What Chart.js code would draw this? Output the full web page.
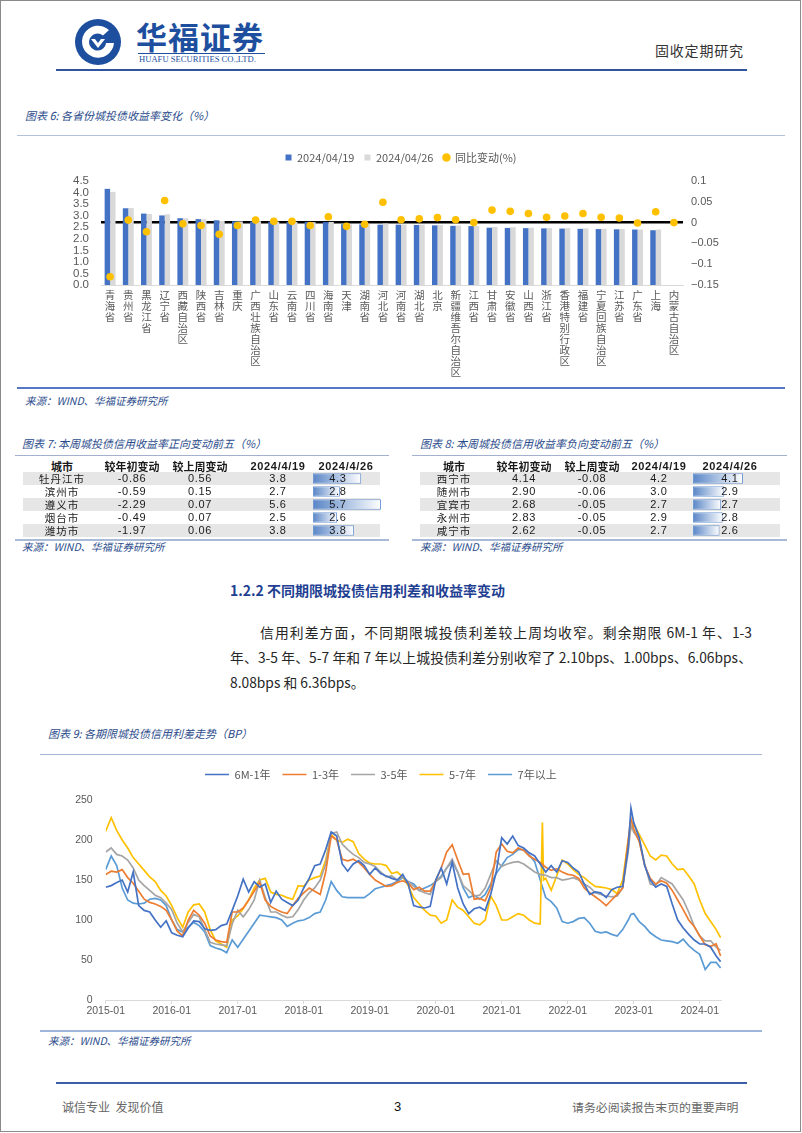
<!DOCTYPE html>
<html lang="zh-CN">
<head>
<meta charset="utf-8">
<title>固收定期研究</title>
<script src="https://cdn.jsdelivr.net/npm/chart.js@4.4.1/dist/chart.umd.min.js"></script>
<style>
  html, body { margin:0; padding:0; background:#fff; }
  body { width:802px; height:1133px; position:relative; overflow:hidden;
         font-family:"Noto Sans CJK SC","Liberation Sans",sans-serif; color:#222; }
  .a { position:absolute; white-space:nowrap; line-height:1; }
  .ln { position:absolute; }
  canvas { position:absolute; }
  .cap { font-size:11px; font-style:italic; color:#2B4C8C; }
  .src { font-size:10.5px; font-style:italic; color:#2B4C8C; }
  .shade { position:absolute; height:13px; background:#E6E6E6; }
  .cell { position:absolute; height:13px; line-height:13px; width:110px; margin-left:-55px;
          text-align:center; font-size:10.5px; z-index:3; white-space:nowrap; color:#1a1a1a; }
  .num { font-family:"Liberation Sans",sans-serif; font-size:11px; letter-spacing:0.7px; }
  .hd { font-weight:700; font-size:11px; }
  .para { position:absolute; font-size:13.8px; line-height:1; color:#262626; white-space:nowrap; }
  .just { text-align:justify; text-align-last:justify; white-space:normal; }
</style>
</head>
<body>
<div class="ln" style="left:0;top:0;width:799px;height:1130px;border:1px solid #8a8a8a;"></div>

<!-- header -->
<svg class="a" style="left:74px;top:18px" width="48" height="48" viewBox="0 0 48 48">
  <circle cx="24" cy="24" r="23" fill="#1E4F9E"/>
  <path d="M35 12 A16 16 0 1 0 40 25 L32 25 A8.5 8.5 0 1 1 29 17.5 Z" fill="#fff"/>
  <path d="M17 21 L24 30 L31 21 L27 21 L24 25 L21 21 Z" fill="#fff"/>
</svg>
<div class="a" style="left:136px;top:20px;font-size:31px;font-weight:700;color:#1E4F9E;letter-spacing:1px;">华福证券</div>
<div class="ln" style="left:138px;top:53px;width:127px;height:0;border-top:1px solid #1E4F9E;"></div>
<div class="a" style="left:139px;top:55px;font-family:'Liberation Serif',serif;font-size:8.6px;color:#1E4F9E;">HUAFU SECURITIES CO.,LTD.</div>
<div class="a" style="left:655px;top:43px;font-size:14px;color:#333;letter-spacing:0.8px;">固收定期研究</div>
<div class="ln" style="left:56px;top:69px;width:691px;height:2px;background:#2F55A0;"></div>

<!-- chart 6 -->
<div class="a cap" style="left:25px;top:110px;">图表 6: 各省份城投债收益率变化（%）</div>
<div class="ln" style="left:17px;top:135px;width:768px;height:1px;background:#B4C1DC;"></div>
<canvas id="c6" width="802" height="248" style="left:0;top:142px;"></canvas>
<div class="ln" style="left:17px;top:387px;width:768px;height:2px;background:#5677C5;"></div>
<div class="a src" style="left:25px;top:396px;">来源：WIND、华福证券研究所</div>

<!-- tables -->
<div class="a cap" style="left:22px;top:438px;">图表 7: 本周城投债信用收益率正向变动前五（%）</div>
<div class="a cap" style="left:420px;top:438px;">图表 8: 本周城投债信用收益率负向变动前五（%）</div>
<div class="ln" style="left:15px;top:455px;width:374px;height:1px;background:#A3B1CE;"></div>
<div class="ln" style="left:412px;top:455px;width:375px;height:1px;background:#A3B1CE;"></div>
<div class="ln" style="left:15px;top:539px;width:374px;height:2px;background:#A9B9D8;"></div>
<div class="ln" style="left:412px;top:539px;width:375px;height:2px;background:#A9B9D8;"></div>
<div id="tables"></div>
<canvas id="t7bars" width="70" height="65" style="left:312px;top:472px;z-index:2;"></canvas>
<canvas id="t8bars" width="52" height="65" style="left:692px;top:472px;z-index:2;"></canvas>
<div class="a src" style="left:22px;top:542px;">来源：WIND、华福证券研究所</div>
<div class="a src" style="left:420px;top:542px;">来源：WIND、华福证券研究所</div>

<!-- section text -->
<div class="a" style="left:230px;top:583px;font-size:14px;font-weight:700;color:#1F3F93;">1.2.2 不同期限城投债信用利差和收益率变动</div>
<div class="para just" style="left:260px;top:626px;width:492px;">信用利差方面，不同期限城投债利差较上周均收窄。剩余期限 6M-1 年、1-3</div>
<div class="para just" style="left:230px;top:651px;width:522px;">年、3-5 年、5-7 年和 7 年以上城投债利差分别收窄了 2.10bps、1.00bps、6.06bps、</div>
<div class="para" style="left:230px;top:676px;">8.08bps 和 6.36bps。</div>

<!-- chart 9 -->
<div class="a cap" style="left:48px;top:728px;">图表 9: 各期限城投债信用利差走势（BP）</div>
<div class="ln" style="left:40px;top:754px;width:722px;height:1px;background:#A6B5D3;"></div>
<canvas id="c9" width="722" height="268" style="left:40px;top:757px;"></canvas>
<div class="ln" style="left:40px;top:1030px;width:722px;height:2px;background:#9EB6DC;"></div>
<div class="a src" style="left:48px;top:1036px;">来源：WIND、华福证券研究所</div>

<!-- footer -->
<div class="ln" style="left:56px;top:1082px;width:691px;height:2px;background:#3B5EA7;"></div>
<div class="a" style="left:62px;top:1101px;font-size:12px;color:#666;">诚信专业&nbsp;&nbsp;发现价值</div>
<div class="a" style="left:394px;top:1100px;font-size:13px;font-family:'Liberation Sans',sans-serif;color:#111;">3</div>
<div class="a" style="left:572px;top:1101px;font-size:11.9px;color:#666;">请务必阅读报告末页的重要声明</div>

<script>
// ---------------- data: chart 6 ----------------
const provinces = ['青海省','贵州省','黑龙江省','辽宁省','西藏自治区','陕西省','吉林省','重庆','广西壮族自治区','山东省','云南省','四川省','海南省','天津','湖南省','河北省','河南省','湖北省','北京','新疆维吾尔自治区','江西省','甘肃省','安徽省','山西省','浙江省','香港特别行政区','福建省','宁夏回族自治区','江苏省','广东省','上海','内蒙古自治区'];
const yield0419 = [4.16,3.32,3.09,3.01,2.89,2.85,2.80,2.76,2.75,2.74,2.73,2.73,2.72,2.63,2.62,2.61,2.61,2.60,2.58,2.56,2.55,2.48,2.47,2.46,2.45,2.44,2.43,2.42,2.41,2.40,2.37,null];
const yield0426 = [4.03,3.33,3.07,3.06,2.89,2.84,2.77,2.75,2.76,2.74,2.73,2.72,2.73,2.62,2.62,2.66,2.62,2.61,2.59,2.57,2.55,2.51,2.50,2.48,2.46,2.46,2.45,2.43,2.42,2.40,2.40,null];
const yieldChange = [-0.13,0.006,-0.022,0.053,-0.003,-0.007,-0.028,-0.007,0.006,0.003,0.003,-0.007,0.014,-0.009,-0.004,0.049,0.007,0.009,0.012,0.007,0.0,0.030,0.027,0.022,0.013,0.016,0.022,0.013,0.011,-0.001,0.026,0.0];

// ---------------- data: tables 7 & 8 ----------------
const tableHeader = ['城市','较年初变动','较上周变动','2024/4/19','2024/4/26'];
const t7City = ['牡丹江市','滨州市','遵义市','烟台市','潍坊市'];
const t7Ytd  = [-0.86,-0.59,-2.29,-0.49,-1.97];
const t7Wow  = [0.56,0.15,0.07,0.07,0.06];
const t7Prev = [3.8,2.7,5.6,2.5,3.8];
const t7Curr = [4.3,2.8,5.7,2.6,3.8];
const t8City = ['西宁市','随州市','宜宾市','永州市','咸宁市'];
const t8Ytd  = [4.14,2.90,2.68,2.83,2.62];
const t8Wow  = [-0.08,-0.06,-0.05,-0.05,-0.05];
const t8Prev = [4.2,3.0,2.7,2.9,2.7];
const t8Curr = [4.1,2.9,2.7,2.8,2.6];

// ---------------- data: chart 9 (months since 2015-01) ----------------
const spreadMonth = [0,1,2,3,4,5,6,7,8,9,10,11,
 12,13,14,15,16,17,18,19,20,21,22,23,
 24,25,26,27,28,29,30,31,32,33,34,35,
 36,37,38,39,40,41,42,43,44,45,46,47,
 48,49,50,51,52,53,54,55,56,57,58,59,
 60,61,62,63,64,65,66,67,68,69,70,71,
 72,73,74,75,76,77,78,79,79.4,79.6,80,81,82,83,
 84,85,86,87,88,89,90,91,92,93,94,95,95.5,
 96,97,98,99,100,101,102,103,104,105,106,107,
 108,109,110,111,111.8];
const spreadYearLabels = ['2015-01','2016-01','2017-01','2018-01','2019-01','2020-01','2021-01','2022-01','2023-01','2024-01'];
const spread6M1Y = [141,143,147,150,135,160,118,112,110,100,91,99,
 84,81,79,90,99,98,89,87,88,93,95,112,
 130,151,135,148,141,145,122,136,126,122,118,125,
 140,152,168,170,188,210,205,170,161,170,174,168,
 157,165,158,155,152,150,157,145,118,116,115,117,
 150,165,145,172,140,120,108,114,116,112,132,160,
 203,195,205,193,190,184,180,170,null,null,160,168,160,174,
 172,165,160,145,132,135,134,128,138,141,142,190,240,
 222,203,168,150,141,145,142,120,100,90,82,75,
 70,70,66,55,48];
const spread1to3 = [157,161,160,163,153,146,136,126,122,120,117,112,
 100,86,80,100,112,106,96,80,75,73,72,110,
 110,115,125,136,147,125,117,113,110,108,118,127,
 134,140,136,132,160,205,200,176,174,176,172,165,
 157,150,146,142,143,147,149,146,138,141,136,136,
 149,165,185,194,175,157,158,126,127,124,140,185,
 195,186,184,190,187,180,176,172,null,null,166,162,164,160,
 157,156,152,140,134,129,124,118,125,132,140,200,227,
 214,198,168,152,145,149,146,137,125,113,100,92,
 80,69,67,70,55];
const spread3to5 = [185,190,182,180,175,165,150,143,137,131,128,121,
 113,96,85,97,107,104,88,72,70,69,68,95,
 112,104,113,125,150,128,110,110,106,103,104,113,
 125,134,140,150,170,208,210,195,188,182,178,172,
 170,167,160,154,155,150,154,148,142,137,134,132,
 148,153,165,176,160,143,137,130,131,140,157,174,
 167,170,172,173,170,165,160,157,null,null,156,153,153,150,
 151,153,150,145,141,134,132,130,129,130,140,185,219,
 210,200,170,145,143,153,149,145,135,125,110,92,
 80,74,74,66,62];
const spread5to7 = [211,228,212,200,190,178,170,162,154,148,137,130,
 118,103,91,110,119,120,110,88,74,70,66,100,
 105,114,125,140,150,152,135,132,131,128,126,143,
 142,150,153,155,175,207,200,197,201,198,183,176,
 171,170,170,168,158,160,154,143,128,120,112,106,
 105,96,100,125,116,112,104,96,94,100,130,118,
 100,100,104,108,106,100,96,95,222,150,152,137,155,175,
 170,163,157,153,147,142,141,140,138,133,150,200,215,
 220,207,194,180,175,181,180,170,163,164,155,145,
 125,108,98,88,78];
const spread7plus = [163,180,168,140,125,121,120,121,126,127,125,118,
 100,88,85,91,97,93,85,68,65,63,59,75,
 66,76,86,96,106,105,104,103,100,92,96,99,
 100,103,108,110,125,148,137,129,128,128,128,128,
 133,139,141,143,145,148,153,148,145,137,140,143,
 148,155,165,173,160,140,128,131,126,132,145,158,
 168,178,182,188,188,181,173,150,null,null,128,123,115,98,
 96,98,102,103,96,86,84,85,82,80,88,100,107,
 108,98,92,84,79,75,74,73,71,76,68,62,
 57,38,47,47,40];

// ---------------- common ----------------
Chart.defaults.font.family = '"Noto Sans CJK SC","Liberation Sans",sans-serif';
Chart.defaults.color = '#595959';
Chart.defaults.animation = false;
Chart.defaults.responsive = false;
Chart.defaults.events = [];
Chart.defaults.plugins.tooltip.enabled = false;

function legendGap(extra) {
  return { id: 'legendGap', beforeInit(chart) {
    const orig = chart.legend.fit;
    chart.legend.fit = function () { orig.bind(chart.legend)(); this.height += extra; };
  }};
}

// ---------------- chart 6 ----------------
const rankOf = {1:0, 2:1, 0:2};
new Chart(document.getElementById('c6'), {
  type: 'bar',
  data: {
    labels: provinces.map(p => p.split('')),
    datasets: [
      { type:'line', label:'同比变动(%)', data: yieldChange, yAxisID:'y2', showLine:false,
        pointRadius:3.8, pointStyle:'circle', pointBackgroundColor:'#FFC000', pointBorderWidth:0,
        backgroundColor:'#FFC000', borderColor:'#FFC000', borderWidth:0 },
      { label:'2024/04/19', data: yield0419, yAxisID:'y', backgroundColor:'#4472C4',
        barPercentage:1, categoryPercentage:0.6, pointStyle:'rect', borderWidth:0 },
      { label:'2024/04/26', data: yield0426, yAxisID:'y', backgroundColor:'#D9D9D9',
        barPercentage:1, categoryPercentage:0.6, pointStyle:'rect', borderWidth:0 }
    ]
  },
  options: {
    layout: { padding: 0 },
    plugins: {
      legend: { position:'top', labels: { usePointStyle:true, boxWidth:6, boxHeight:6, padding:10,
        font:{ size:11 }, color:'#595959', sort:(a,b) => rankOf[a.datasetIndex] - rankOf[b.datasetIndex] } }
    },
    scales: {
      x: { grid:{ display:false, drawTicks:false }, border:{ display:true, color:'#D9D9D9', width:1 },
           ticks:{ autoSkip:false, maxRotation:0, minRotation:0, padding:4.5, color:'#595959',
                   font:{ size:10.5, lineHeight:1.05 } },
           afterFit: s => { s.height = 105; } },
      y: { position:'left', min:0, max:4.5, grid:{ display:false, drawTicks:false }, border:{ display:false },
           ticks:{ stepSize:0.5, autoSkip:false, padding:12, color:'#595959',
                   font:{ family:'"Liberation Sans",sans-serif', size:11.5 },
                   callback: v => Number(v).toFixed(1) },
           afterFit: s => { s.width = 101; } },
      y2: { position:'right', min:-0.15, max:0.1, border:{ display:false },
            grid:{ drawTicks:false, color: c => Math.abs(c.tick.value) < 1e-9 ? '#000000' : 'rgba(0,0,0,0)',
                   lineWidth: c => Math.abs(c.tick.value) < 1e-9 ? 2.5 : 0 },
            ticks:{ stepSize:0.05, autoSkip:false, padding:8, color:'#595959',
                    font:{ family:'"Liberation Sans",sans-serif', size:11 },
                    callback: v => String(+Number(v).toFixed(2)).replace('-', '−') },
            afterFit: s => { s.width = 119; } }
    }
  },
  plugins: [legendGap(8)]
});

// ---------------- tables ----------------
function buildTable(cols, lastHeadX, city, ytd, wow, prev, curr, shadeLeft, shadeWidth) {
  const host = document.getElementById('tables');
  let html = '';
  for (let i = 0; i < 5; i += 2) {
    html += `<div class="shade" style="left:${shadeLeft}px;top:${472 + 13*i}px;width:${shadeWidth}px;"></div>`;
  }
  const headX = [cols[0], cols[1], cols[2], cols[3], lastHeadX];
  tableHeader.forEach((h, j) => {
    const isNum = j >= 3;
    html += `<div class="cell hd ${isNum ? 'num' : ''}" style="left:${headX[j]}px;top:459.5px;${isNum?'font-weight:700;':''}">${h}</div>`;
  });
  for (let i = 0; i < 5; i++) {
    const top = 472 + 13*i;
    html += `<div class="cell" style="left:${cols[0]}px;top:${top}px;letter-spacing:1px;">${city[i]}</div>`;
    html += `<div class="cell num" style="left:${cols[1]}px;top:${top}px;">${ytd[i].toFixed(2)}</div>`;
    html += `<div class="cell num" style="left:${cols[2]}px;top:${top}px;">${wow[i].toFixed(2)}</div>`;
    html += `<div class="cell num" style="left:${cols[3]}px;top:${top}px;">${prev[i].toFixed(1)}</div>`;
    html += `<div class="cell num" style="left:${cols[4]}px;top:${top}px;">${curr[i].toFixed(1)}</div>`;
  }
  host.insertAdjacentHTML('beforeend', html);
}
buildTable([62,132,200,278,338], 346, t7City, t7Ytd, t7Wow, t7Prev, t7Curr, 23, 357);
buildTable([454,524,592,659,730], 730, t8City, t8Ytd, t8Wow, t8Prev, t8Curr, 420, 360);

function dataBars(id, labels, values, lo, hi) {
  new Chart(document.getElementById(id), {
    type: 'bar',
    data: { labels: labels, datasets: [{
      data: values, base: lo, borderWidth: 1, borderColor: '#7199D2', borderSkipped: false,
      barPercentage: 0.8, categoryPercentage: 1,
      backgroundColor: (c) => {
        const ch = c.chart;
        if (!ch.chartArea || c.dataIndex == null) return '#6A93CF';
        const xs = ch.scales.x;
        const x0 = xs.getPixelForValue(lo), x1 = xs.getPixelForValue(c.raw);
        const g = ch.ctx.createLinearGradient(x0, 0, x1, 0);
        g.addColorStop(0, '#5A86C7');
        g.addColorStop(1, '#FFFFFF');
        return g;
      }
    }]},
    options: {
      indexAxis: 'y',
      layout: { padding: { left: 1, right: 1, top: 0, bottom: 0 } },
      plugins: { legend: { display: false } },
      scales: { x: { display: false, min: lo, max: hi }, y: { display: false } }
    }
  });
}
dataBars('t7bars', t7City, t7Curr, 0.9, 5.7);
dataBars('t8bars', t8City, t8Curr, 0.9, 4.1);

// ---------------- chart 9 ----------------
function pts(series) { return spreadMonth.map((m, i) => ({ x: m, y: series[i] })); }
const lineDs = (label, series, color) => ({
  label, data: pts(series), borderColor: color, backgroundColor: color, borderWidth: 1.7,
  pointRadius: 0, pointStyle: 'line', spanGaps: true, tension: 0
});
new Chart(document.getElementById('c9'), {
  type: 'line',
  data: { datasets: [
    lineDs('6M-1年', spread6M1Y, '#4472C4'),
    lineDs('1-3年', spread1to3, '#ED7D31'),
    lineDs('3-5年', spread3to5, '#A5A5A5'),
    lineDs('5-7年', spread5to7, '#FFC000'),
    lineDs('7年以上', spread7plus, '#5B9BD5')
  ]},
  options: {
    layout: { padding: { left: 0, right: 40.3, top: 0, bottom: 0 } },
    plugins: { legend: { position: 'top', labels: { usePointStyle: true, pointStyleWidth: 24, boxHeight: 8,
      padding: 12, font: { size: 11 }, color: '#595959' } } },
    scales: {
      x: { type: 'linear', min: 0, max: 112,
           grid: { drawOnChartArea: false, drawTicks: true, tickLength: 4, color: '#D9D9D9' },
           border: { display: true, color: '#D9D9D9' },
           ticks: { stepSize: 12, includeBounds: false, padding: 1, maxRotation: 0, autoSkip: false,
                    color: '#595959', font: { family: '"Liberation Sans",sans-serif', size: 10.5, lineHeight: 1.2 },
                    callback: v => spreadYearLabels[Math.round(v / 12)] },
           afterFit: s => { s.height = 25; } },
      y: { min: 0, max: 250, grid: { display: false, drawTicks: false }, border: { display: false },
           ticks: { stepSize: 50, padding: 13, color: '#595959', font: { family: '"Liberation Sans",sans-serif', size: 10.5 } },
           afterFit: s => { s.width = 65.7; } }
    }
  },
  plugins: [legendGap(10)]
});
</script>
</body>
</html>
